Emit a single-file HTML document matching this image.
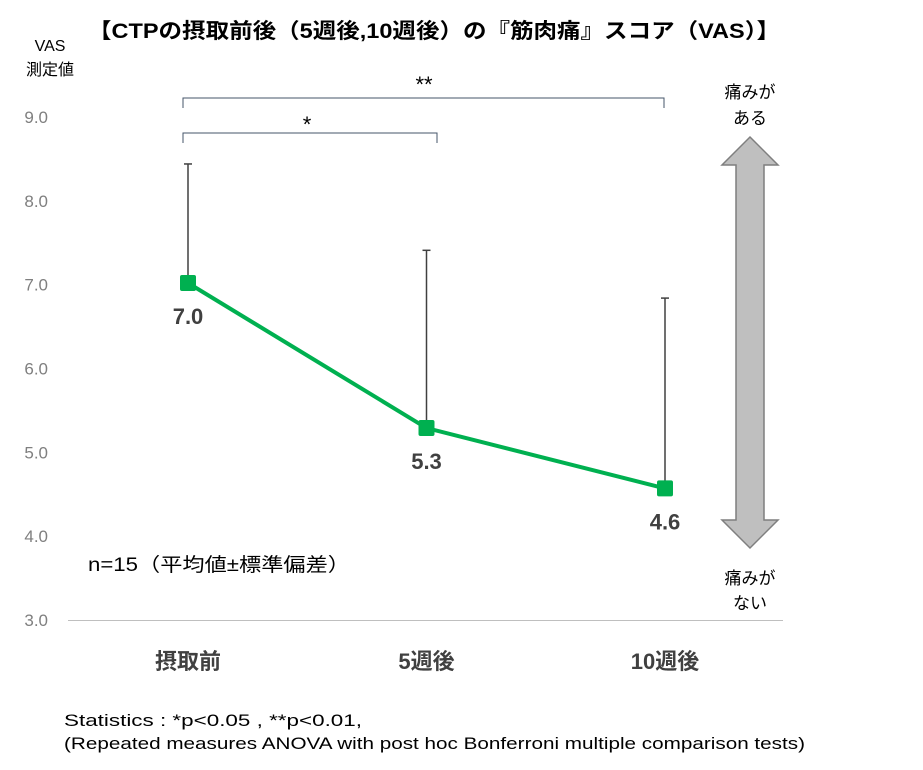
<!DOCTYPE html>
<html><head><meta charset="utf-8"><style>
body{margin:0;background:#fff;}
svg text{font-family:"Liberation Sans","Noto Sans CJK JP",sans-serif;}
</style></head><body>
<svg width="923" height="765" viewBox="0 0 923 765">
<text x="88" y="38" textLength="692" lengthAdjust="spacingAndGlyphs" font-size="21" font-weight="bold" fill="#000">【CTPの摂取前後（5週後,10週後）の『筋肉痛』スコア（VAS）】</text>
<text x="50" y="51" text-anchor="middle" font-size="16" fill="#000">VAS</text>
<text x="50" y="75" text-anchor="middle" font-size="16" fill="#000">測定値</text>
<g id="yticks"></g>
<line x1="68" y1="620.5" x2="783" y2="620.5" stroke="#bfbfbf" stroke-width="1"/>
<g id="xlabels"></g>
<g id="brackets" fill="none" stroke="#44546a" stroke-width="1">
<path d="M183,108 V98 H664 V108"/>
<path d="M183,143 V133 H437 V143"/>
</g>
<text x="424" y="92" text-anchor="middle" font-size="22">**</text>
<text x="307" y="132" text-anchor="middle" font-size="22">*</text>
<g id="errs"></g>
<path id="line" fill="none" stroke="#00b050" stroke-width="4"/>
<g id="pts"></g>
<text x="88" y="571" textLength="262" lengthAdjust="spacingAndGlyphs" font-size="19" fill="#000">n=15（平均値±標準偏差）</text>
<polygon points="750,137 778,165 764,165 764,520 778,520 750,548 722,520 736,520 736,165 722,165" fill="#bfbfbf" stroke="#7f7f7f" stroke-width="1.5"/>
<text x="750" y="98" text-anchor="middle" font-size="17">痛みが</text>
<text x="750" y="124" text-anchor="middle" font-size="17">ある</text>
<text x="750" y="584" text-anchor="middle" font-size="17">痛みが</text>
<text x="750" y="609" text-anchor="middle" font-size="17">ない</text>
<text x="64" y="726" textLength="298" lengthAdjust="spacingAndGlyphs" font-size="17">Statistics : *p&lt;0.05 , **p&lt;0.01,</text>
<text x="64" y="749" textLength="741" lengthAdjust="spacingAndGlyphs" font-size="17">(Repeated measures ANOVA with post hoc Bonferroni multiple comparison tests)</text>
</svg>
<script>
const categories=["摂取前","5週後","10週後"];
const means=[7.02,5.29,4.57];
const sds=[1.42,2.12,2.27];
const valueLabels=["7.0","5.3","4.6"];
const yTicks=[3,4,5,6,7,8,9];
const NS="http://www.w3.org/2000/svg";
function y(v){return 620-(v-3)*83.83;}
function x(i){return 188+i*238.5;}
function mk(t,a,p,txt){const e=document.createElementNS(NS,t);for(const k in a)e.setAttribute(k,a[k]);if(txt!==undefined)e.textContent=txt;document.getElementById(p).appendChild(e);return e;}
yTicks.forEach(t=>{const e=mk('text',{x:48,y:y(t)+6,'text-anchor':'end','font-size':17,fill:'#7f7f7f'},'yticks',t.toFixed(1));

});
categories.forEach((c,i)=>{const e=mk('text',{x:x(i),y:669,'text-anchor':'middle','font-size':22,'font-weight':'bold',fill:'#404040'},'xlabels',c);

});
let d='';
means.forEach((m,i)=>{d+=(i?'L':'M')+x(i)+','+y(m);
const e=mk('line',{x1:x(i),x2:x(i),y1:y(m),y2:y(m+sds[i]),stroke:'#404040','stroke-width':1.5},'errs');


const c=mk('line',{x1:x(i)-4,x2:x(i)+4,y1:y(m+sds[i]),y2:y(m+sds[i]),stroke:'#404040','stroke-width':1.5},'errs');


const p=mk('rect',{x:x(i)-8,y:y(m)-8,width:16,height:16,rx:2,fill:'#00b050'},'pts');


const l=mk('text',{x:x(i),y:y(m)+41,'text-anchor':'middle','font-size':22,'font-weight':'bold',fill:'#404040'},'pts',valueLabels[i]);

});
document.getElementById('line').setAttribute('d',d);
</script>
</body></html>
